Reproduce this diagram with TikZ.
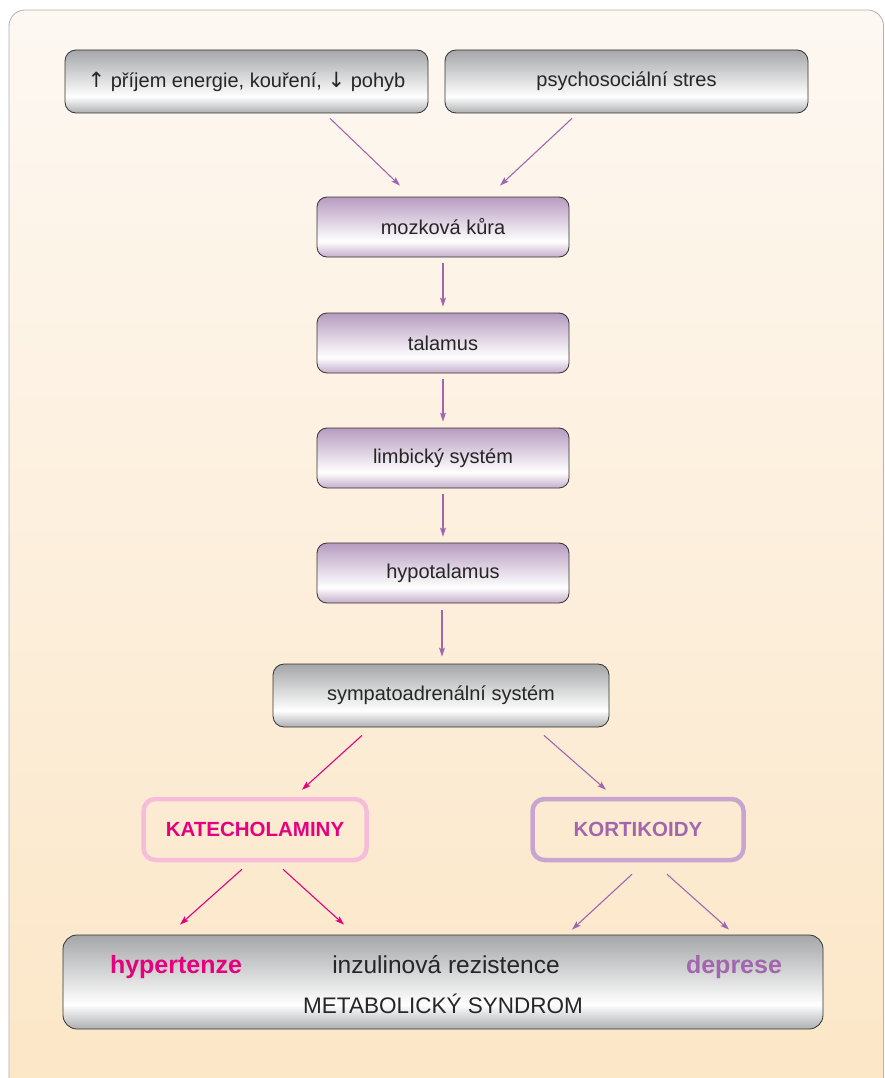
\documentclass[tikz,border=0pt]{standalone}
\usepackage{fontspec}
\setmainfont{Liberation Sans}
\newfontfamily\arrfont{DejaVu Sans}
\usetikzlibrary{arrows.meta,calc}
\definecolor{gT}{HTML}{A5A6A8}
\definecolor{gB}{HTML}{ADAEB0}
\definecolor{pT}{HTML}{B79BC0}
\definecolor{pB}{HTML}{C5ADCC}
\definecolor{bgT}{HTML}{FDF8F2}
\definecolor{bgB}{HTML}{FCE6C6}
\definecolor{mag}{HTML}{E5007D}
\definecolor{vio}{HTML}{A266AE}
\definecolor{pinkb}{HTML}{F7BCDA}
\definecolor{viob}{HTML}{C7A5D0}
\pgfdeclareverticalshading{grayshade}{100bp}{color(0bp)=(gB); color(25bp)=(gB); color(38bp)=(white); color(75bp)=(gT); color(100bp)=(gT)}
\pgfdeclareverticalshading{purpshade}{100bp}{color(0bp)=(pB); color(25bp)=(pB); color(38bp)=(white); color(75bp)=(pT); color(100bp)=(pT)}
\pgfdeclareverticalshading{bgshade}{100bp}{color(0bp)=(bgB); color(25bp)=(bgB); color(75bp)=(bgT); color(100bp)=(bgT)}
\begin{document}
\begin{tikzpicture}[x=1pt,y=-1pt,
  graybox/.style={draw=black!80, line width=0.8pt, rounded corners=11pt, shading=grayshade, inner sep=0pt, font=\fontsize{20}{24}\selectfont, text=black!85},
  purpbox/.style={draw=black!80, line width=0.8pt, rounded corners=10pt, shading=purpshade, minimum width=252pt, minimum height=60pt, inner sep=0pt, font=\fontsize{20}{24}\selectfont, text=black!85},
  outbox/.style={line width=4.5pt, rounded corners=12pt, inner sep=0pt, minimum height=61pt, font=\bfseries\fontsize{20.5}{24}\selectfont},
  marr/.style={draw=mag, line width=1.1pt, -{Stealth[length=9pt,width=6pt,inset=2pt]}},
  varr/.style={draw=vio, line width=1.1pt, -{Stealth[length=9pt,width=6pt,inset=2pt]}},
  lbl/.style={inner sep=0pt, anchor=base}
]
\useasboundingbox (0,0) rectangle (884,1078);
\fill[white] (0,0) rectangle (884,1078);
\draw[draw=black!30, line width=0.8pt, rounded corners=16pt, shading=bgshade] (9,10) rectangle (883.5,1110);

\node[graybox, minimum width=363pt, minimum height=63pt] (n1) at (246.5,81.5) {{\arrfont\fontsize{21}{24}\selectfont ↑} příjem energie, kouření, {\arrfont\fontsize{21}{24}\selectfont ↓} pohyb};
\node[graybox, minimum width=363pt, minimum height=63pt] (n2) at (626.5,81.5) {psychosociální stres};
\node[purpbox] (n3) at (443,227) {mozková kůra};
\node[purpbox] (n4) at (443,343) {talamus};
\node[purpbox] (n5) at (443,458) {limbický systém};
\node[purpbox] (n6) at (443,573) {hypotalamus};
\node[graybox, minimum width=336pt, minimum height=63pt] (n7) at (441,695.5) {sympatoadrenální systém};
\node[outbox, draw=pinkb, text=mag, minimum width=223pt] (kat) at (255,829.5) {KATECHOLAMINY};
\node[outbox, draw=viob, text=vio, minimum width=211pt] (kor) at (638,829.5) {KORTIKOIDY};
\node[graybox, minimum width=760pt, minimum height=94pt, rounded corners=14pt] (bot) at (443,982) {};
\node[lbl, font=\bfseries\fontsize{25}{30}\selectfont, text=mag] (hyp) at (176,973) {hypertenze};
\node[lbl, font=\fontsize{24.5}{30}\selectfont, text=black!85] (inz) at (446,973) {inzulinová rezistence};
\node[lbl, font=\bfseries\fontsize{25}{30}\selectfont, text=vio] (dep) at (734,973) {deprese};
\node[lbl, font=\fontsize{22.5}{28}\selectfont, text=black!85] (met) at (443,1013) {METABOLICKÝ SYNDROM};

\draw[varr] ([xshift=83.5pt,yshift=-5pt]n1.south) -- ([xshift=-43pt,yshift=11pt]n3.north);
\draw[varr] ([xshift=-54.5pt,yshift=-5pt]n2.south) -- ([xshift=57pt,yshift=11pt]n3.north);
\draw[varr, shorten <=6pt, shorten >=6pt] (n3.south) -- (n4.north);
\draw[varr, shorten <=6pt, shorten >=6pt] (n4.south) -- (n5.north);
\draw[varr, shorten <=6pt, shorten >=6pt] (n5.south) -- (n6.north);
\draw[varr, shorten <=7pt, shorten >=7pt] ([xshift=-1pt]n6.south) -- ([xshift=1pt]n7.north);
\draw[marr] ([xshift=-79pt,yshift=-8pt]n7.south) -- ([xshift=47pt,yshift=7pt]kat.north);
\draw[varr] ([xshift=103pt,yshift=-8pt]n7.south) -- ([xshift=-32pt,yshift=7pt]kor.north);
\draw[marr] ([xshift=-13pt,yshift=-7pt]kat.south) -- ([xshift=-263pt,yshift=10pt]bot.north);
\draw[marr] ([xshift=28pt,yshift=-7pt]kat.south) -- ([xshift=-99pt,yshift=10pt]bot.north);
\draw[varr] ([xshift=-6pt,yshift=-12pt]kor.south) -- ([xshift=129pt,yshift=5pt]bot.north);
\draw[varr] ([xshift=29pt,yshift=-12pt]kor.south) -- ([xshift=286pt,yshift=5pt]bot.north);
\end{tikzpicture}
\end{document}
